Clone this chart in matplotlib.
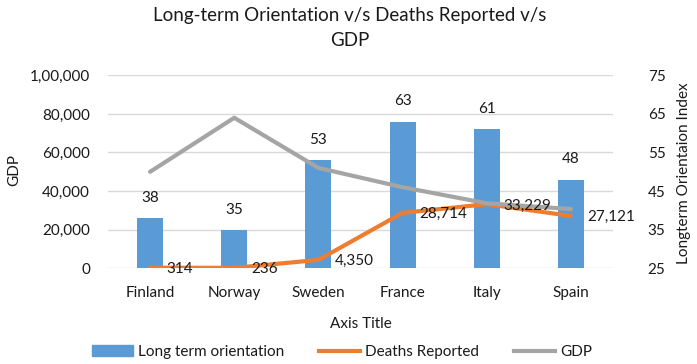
import matplotlib
matplotlib.use("Agg")
import matplotlib.pyplot as plt
from matplotlib.patches import Patch
from matplotlib.lines import Line2D

plt.rcParams['font.family'] = ['Lato', 'DejaVu Sans']

countries = ["Finland", "Norway", "Sweden", "France", "Italy", "Spain"]
lto = [38, 35, 53, 63, 61, 48]
deaths = [314, 236, 4350, 28714, 33229, 27121]
gdp = [50000, 78000, 52000, 42000, 33700, 30700]
left_ticks = [0, 20000, 40000, 60000, 80000, 100000]
left_tick_labels = ["0", "20,000", "40,000", "60,000", "80,000", "1,00,000"]
right_ticks = [25, 35, 45, 55, 65, 75]

C_BAR = "#5B9BD5"
C_DEATH = "#ED7D31"
C_GDP = "#A5A5A5"
TXT = "#1a1a1a"
FS = 11

W, H = 697, 364
fig = plt.figure(figsize=(W / 100, H / 100), dpi=100)
L, R, T, B = 108, 613, 75.3, 268.3
ax = fig.add_axes([L / W, 1 - B / H, (R - L) / W, (B - T) / H])
ax2 = ax.twinx()

x = list(range(len(countries)))

# bars on secondary (right) axis, drawn behind
ax2.set_zorder(1)
ax.set_zorder(2)
ax.patch.set_visible(False)
ax2.bar(x, [v - 25 for v in lto], bottom=25, width=0.31, color=C_BAR, zorder=2)
ax2.set_ylim(25, 75)
ax2.set_yticks(right_ticks)
ax2.yaxis.grid(True, color="#D9D9D9", linewidth=1)
ax2.set_axisbelow(True)
for xi, v in zip(x, lto):
    ax2.annotate(str(v), (xi, v), xytext=(0, 14.5), textcoords="offset points",
                 ha="center", va="center", fontsize=FS, color=TXT)

# lines on primary (left) axis
ax.plot(x, deaths, color=C_DEATH, linewidth=3, solid_capstyle="round", zorder=3)
ax.plot(x, gdp, color=C_GDP, linewidth=3, solid_capstyle="round", zorder=3)
for xi, v in zip(x, deaths):
    ax.annotate(f"{v:,}", (xi, v), xytext=(12, -1), textcoords="offset points",
                ha="left", va="center", fontsize=FS, color=TXT, zorder=4)

ax.set_xlim(-0.5, len(countries) - 0.5)
ax.set_ylim(0, 100000)
ax.set_yticks(left_ticks)
ax.set_yticklabels(left_tick_labels)
ax.set_xticks(x)
ax.set_xticklabels(countries)

for a in (ax, ax2):
    for s in a.spines.values():
        s.set_visible(False)
    a.tick_params(length=0, labelsize=FS, labelcolor=TXT)
ax.tick_params(axis="y", pad=13)
ax.tick_params(axis="x", pad=13)
ax2.tick_params(axis="y", pad=25)

fig.text(14 / W, 1 - 170 / H, "GDP", rotation=90, ha="center", va="center",
         fontsize=FS, color=TXT)
fig.text(684 / W, 1 - 173 / H, "Longterm Orientaion Index", rotation=90,
         ha="center", va="center", fontsize=FS, color=TXT)
ax.set_xlabel("Axis Title", fontsize=FS, color=TXT, labelpad=12)

fig.text(0.5 * (L + R) / W - 0.015, 1 - 28 / H, "Long-term Orientation v/s Deaths Reported v/s\nGDP",
         ha="center", va="center", fontsize=13.5, color=TXT, linespacing=1.5)

handles = [Patch(color=C_BAR), Line2D([], [], color=C_DEATH, lw=3), Line2D([], [], color=C_GDP, lw=3)]
fig.legend(handles, ["Long term orientation", "Deaths Reported", "GDP"],
           loc="center", bbox_to_anchor=(342 / W, 1 - 352 / H), ncol=3, frameon=False,
           fontsize=FS, handlelength=2.7, handletextpad=0.3, columnspacing=2.3,
           labelcolor=TXT)

fig.savefig("out.png", dpi=100)
